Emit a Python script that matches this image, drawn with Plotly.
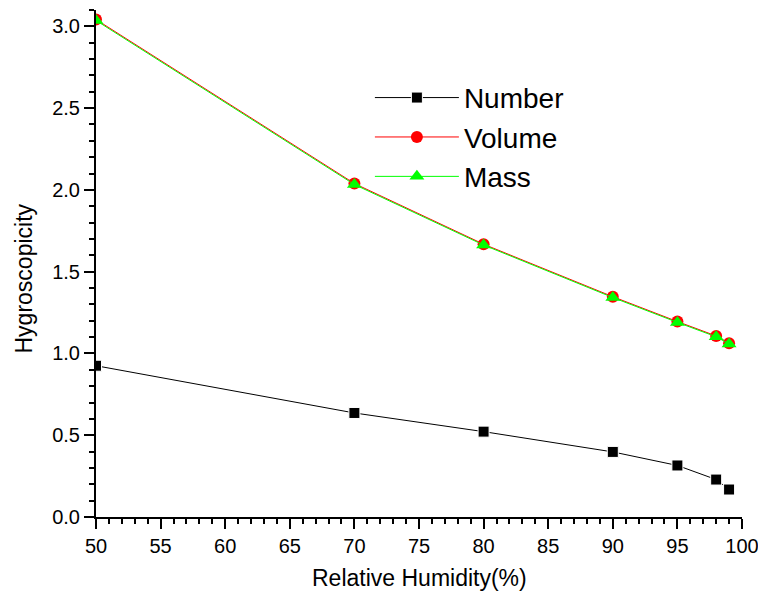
import plotly.graph_objects as go

rh = [50, 70, 80, 90, 95, 98, 99]
number = [0.925, 0.636, 0.522, 0.398, 0.315, 0.229, 0.168]
volume = [3.042, 2.039, 1.668, 1.347, 1.195, 1.107, 1.063]
mass = [3.036, 2.033, 1.663, 1.342, 1.190, 1.102, 1.058]

FONT = "Liberation Sans, Arial, sans-serif"

fig = go.Figure()
fig.add_trace(go.Scatter(x=rh, y=number, name="Number", mode="lines+markers",
                         line=dict(color="black", width=1),
                         marker=dict(symbol="square", size=11, color="black",
                                     line=dict(color="white", width=1))))
fig.add_trace(go.Scatter(x=rh, y=volume, name="Volume", mode="lines+markers",
                         line=dict(color="#ff0000", width=1),
                         marker=dict(symbol="circle", size=12, color="#ff0000")))
fig.add_trace(go.Scatter(x=rh, y=mass, name="Mass", mode="lines+markers",
                         line=dict(color="#00ff00", width=1),
                         marker=dict(symbol="triangle-up", size=13, color="#00ff00")))

axis_common = dict(showline=True, linecolor="black", linewidth=2, showgrid=False,
                   zeroline=False, ticks="outside", ticklen=10, tickwidth=2, automargin=False,
                   tickcolor="black", tickfont=dict(family=FONT, size=20, color="black"))

fig.update_xaxes(range=[50, 100], dtick=5, tick0=50, ticklabeloverflow="allow",
                 minor=dict(dtick=1, ticks="outside", ticklen=5, tickwidth=2, tickcolor="black"),
                 **axis_common)
fig.update_yaxes(range=[0, 3.1], dtick=0.5, tick0=0, tickformat=".1f",
                 minor=dict(dtick=0.1, ticks="outside", ticklen=5, tickwidth=2, tickcolor="black"),
                 **axis_common)

fig.add_annotation(text="Relative Humidity(%)", xref="paper", yref="paper",
                   x=0.5, y=-0.121, showarrow=False, xanchor="center", yanchor="middle",
                   font=dict(family=FONT, size=23, color="black"))
fig.add_annotation(text="Hygroscopicity", xref="paper", yref="paper",
                   x=-0.111, y=0.471, showarrow=False, textangle=-90,
                   xanchor="center", yanchor="middle",
                   font=dict(family=FONT, size=23, color="black"))

fig.update_layout(
    width=758, height=594,
    margin=dict(l=96, r=16, t=10, b=77),
    paper_bgcolor="white", plot_bgcolor="white",
    showlegend=True,
    legend=dict(x=0.424, y=0.876, xanchor="left", yanchor="top",
                bgcolor="rgba(0,0,0,0)", itemwidth=84,
                font=dict(family=FONT, size=28, color="black"),
                tracegroupgap=0),
)

fig.write_html("out.html")
